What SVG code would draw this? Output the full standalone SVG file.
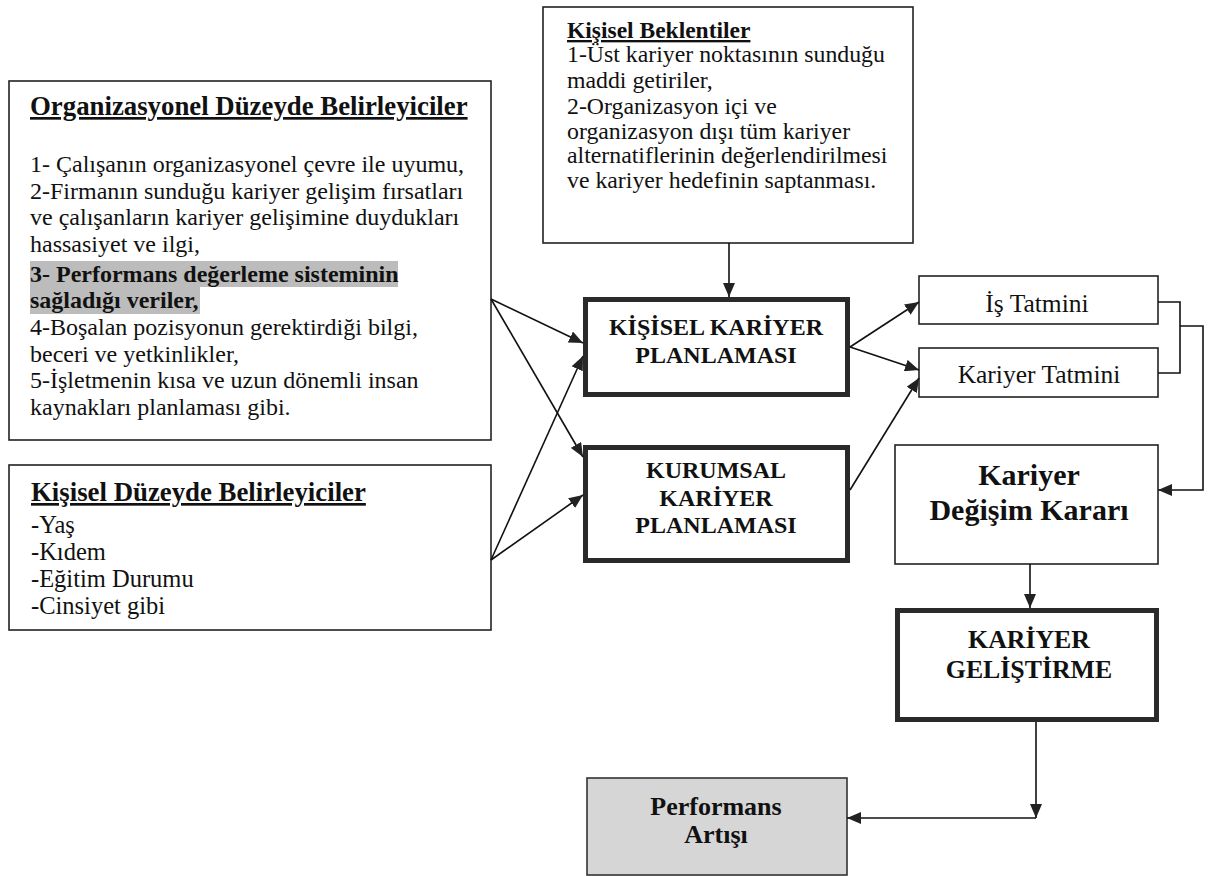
<svg xmlns="http://www.w3.org/2000/svg" width="1210" height="876" viewBox="0 0 1210 876">
  <style>
    text { font-family: "Liberation Serif", "Times New Roman", serif; fill: #111; }
    .body { font-size: 24px; }
    .title { font-size: 26.8px; font-weight: bold; text-decoration: underline; }
    .item { font-size: 24.5px; }
    .bold { font-weight: bold; }
    .mid { text-anchor: middle; }
    .box { fill: #fff; stroke: #222; stroke-width: 1.6; }
    .thick { fill: #fff; stroke: #2a2a2a; stroke-width: 5; }
    .link { fill: none; stroke: #111; stroke-width: 1.6; }
  </style>
  <defs>
    <marker id="head" viewBox="0 0 14 12" refX="14" refY="6" markerWidth="14" markerHeight="12" markerUnits="userSpaceOnUse" orient="auto">
      <path d="M0,0 L14,6 L0,12 Z" fill="#222"/>
    </marker>
  </defs>

  <rect width="1210" height="876" fill="#fff"/>

  <!-- organisational determinants -->
  <g id="org-determinants">
    <rect class="box" x="9" y="81" width="482" height="359"/>
    <text class="title" x="30" y="115">Organizasyonel Düzeyde Belirleyiciler</text>
    <rect x="30" y="261" width="368" height="26" fill="#bcbcbc"/>
    <rect x="30" y="287" width="170" height="27" fill="#bcbcbc"/>
    <text class="body" x="30" y="172">1- Çalışanın organizasyonel çevre ile uyumu,</text>
    <text class="body" x="30" y="198.5">2-Firmanın sunduğu kariyer gelişim fırsatları</text>
    <text class="body" x="30" y="225">ve çalışanların kariyer gelişimine duydukları</text>
    <text class="body" x="30" y="252">hassasiyet ve ilgi,</text>
    <text class="body bold" x="30" y="282">3- Performans değerleme sisteminin</text>
    <text class="body bold" x="30" y="308">sağladığı veriler,</text>
    <text class="body" x="30" y="335">4-Boşalan pozisyonun gerektirdiği bilgi,</text>
    <text class="body" x="30" y="362">beceri ve yetkinlikler,</text>
    <text class="body" x="30" y="388">5-İşletmenin kısa ve uzun dönemli insan</text>
    <text class="body" x="30" y="415">kaynakları planlaması gibi.</text>
  </g>

  <!-- personal determinants -->
  <g id="personal-determinants">
    <rect class="box" x="9" y="465" width="482" height="165"/>
    <text class="title" x="31" y="501">Kişisel Düzeyde Belirleyiciler</text>
    <text class="item" x="31" y="533">-Yaş</text>
    <text class="item" x="31" y="560">-Kıdem</text>
    <text class="item" x="31" y="587">-Eğitim Durumu</text>
    <text class="item" x="31" y="614">-Cinsiyet gibi</text>
  </g>

  <!-- personal expectations -->
  <g id="personal-expectations">
    <rect class="box" x="543" y="7" width="370" height="236"/>
    <text class="title" x="567" y="38" style="font-size:23.5px">Kişisel Beklentiler</text>
    <text x="567" y="62" style="font-size:23.8px">1-Üst kariyer noktasının sunduğu</text>
    <text x="567" y="88" style="font-size:23.8px">maddi getiriler,</text>
    <text x="567" y="114" style="font-size:23.8px">2-Organizasyon içi ve</text>
    <text x="567" y="139" style="font-size:23.8px">organizasyon dışı tüm kariyer</text>
    <text x="567" y="163" style="font-size:23.8px">alternatiflerinin değerlendirilmesi</text>
    <text x="567" y="188" style="font-size:23.8px">ve kariyer hedefinin saptanması.</text>
  </g>

  <!-- individual career planning -->
  <g id="individual-planning">
    <rect class="thick" x="585.5" y="299.5" width="262" height="95"/>
    <text class="bold mid" x="716" y="335" style="font-size:24px">KİŞİSEL KARİYER</text>
    <text class="bold mid" x="716" y="363" style="font-size:24px">PLANLAMASI</text>
  </g>

  <!-- organisational career planning -->
  <g id="corporate-planning">
    <rect class="thick" x="585.5" y="447.5" width="262" height="113"/>
    <text class="bold mid" x="716" y="478" style="font-size:24px">KURUMSAL</text>
    <text class="bold mid" x="716" y="506" style="font-size:24px">KARİYER</text>
    <text class="bold mid" x="716" y="533" style="font-size:24px">PLANLAMASI</text>
  </g>

  <g id="job-satisfaction">
    <rect class="box" x="919" y="276" width="239" height="48"/>
    <text class="mid" x="1037" y="312" style="font-size:25.5px">İş Tatmini</text>
  </g>

  <g id="career-satisfaction">
    <rect class="box" x="919" y="348" width="239" height="49"/>
    <text class="mid" x="1039" y="383" style="font-size:25.5px">Kariyer Tatmini</text>
  </g>

  <g id="career-change-decision">
    <rect class="box" x="895" y="445" width="263" height="119"/>
    <text class="bold mid" x="1029" y="485" style="font-size:30px">Kariyer</text>
    <text class="bold mid" x="1029" y="520" style="font-size:30px">Değişim Kararı</text>
  </g>

  <g id="career-development">
    <rect class="thick" x="897.5" y="610.5" width="259" height="109"/>
    <text class="bold mid" x="1029" y="648" style="font-size:25.8px">KARİYER</text>
    <text class="bold mid" x="1029" y="678" style="font-size:25.8px">GELİŞTİRME</text>
  </g>

  <g id="performance-increase">
    <rect x="587" y="778" width="260" height="97" fill="#d6d6d6" stroke="#333" stroke-width="1.6"/>
    <text class="bold mid" x="716" y="815" style="font-size:26px">Performans</text>
    <text class="bold mid" x="716" y="843" style="font-size:26px">Artışı</text>
  </g>

  <g id="connectors">
    <line class="link" x1="729" y1="243" x2="729" y2="297" marker-end="url(#head)"/>
    <line class="link" x1="491" y1="299" x2="583" y2="343" marker-end="url(#head)"/>
    <line class="link" x1="491" y1="299" x2="583" y2="457" marker-end="url(#head)"/>
    <line class="link" x1="491" y1="560" x2="583" y2="356" marker-end="url(#head)"/>
    <line class="link" x1="491" y1="560" x2="583" y2="495" marker-end="url(#head)"/>
    <line class="link" x1="850" y1="347" x2="919" y2="302" marker-end="url(#head)"/>
    <line class="link" x1="850" y1="347" x2="919" y2="370" marker-end="url(#head)"/>
    <line class="link" x1="850" y1="490" x2="919" y2="378" marker-end="url(#head)"/>
    <polyline class="link" points="1158,302 1180,302 1180,373 1158,373"/>
    <polyline class="link" points="1180,326 1203,326 1203,490 1158,490" marker-end="url(#head)"/>
    <line class="link" x1="1030" y1="564" x2="1030" y2="608" marker-end="url(#head)"/>
    <line class="link" x1="1036" y1="722" x2="1036" y2="818" marker-end="url(#head)"/>
    <line class="link" x1="1036" y1="818" x2="847" y2="818" marker-end="url(#head)"/>
  </g>
</svg>
